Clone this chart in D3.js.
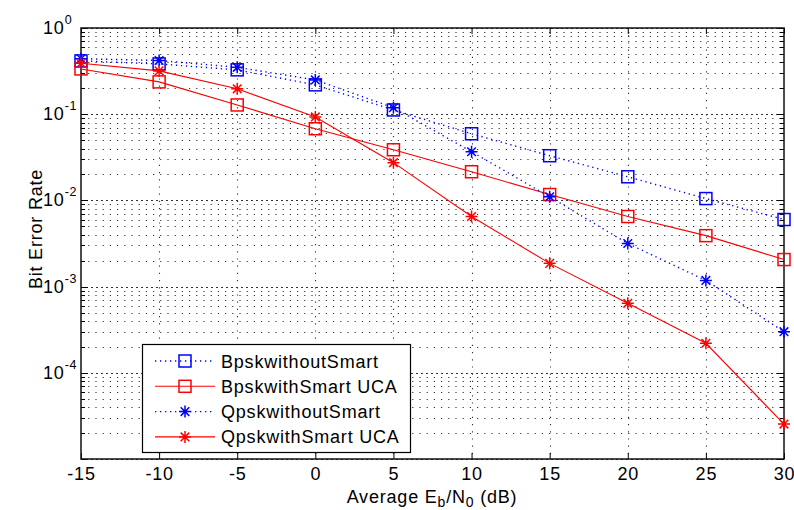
<!DOCTYPE html>
<html>
<head>
<meta charset="utf-8">
<script src="https://cdn.jsdelivr.net/npm/d3@7"></script>
<style>
  body { margin: 0; background: #fff; }
  svg text { font-family: "Liberation Sans", Arial, sans-serif; fill: #000; }
</style>
</head>
<body>
<div id="plot"></div>
<script>
// data
const ebn0 = [-15, -10, -5, 0, 5, 10, 15, 20, 25, 30];
const bpskWithoutSmart = [0.415, 0.383, 0.327, 0.219, 0.112, 0.0593, 0.033, 0.0188, 0.0105, 0.006];
const bpskWithSmartUCA = [0.335, 0.237, 0.128, 0.0678, 0.0387, 0.0215, 0.0117, 0.0065, 0.0039, 0.00206];
const qpskWithoutSmart = [0.44, 0.42, 0.35, 0.25, 0.119, 0.0367, 0.011, 0.00316, 0.00118, 0.0003];
const qpskWithSmartUCA = [0.39, 0.318, 0.197, 0.093, 0.0274, 0.0065, 0.00186, 0.00064, 0.00022, 0.0000254];
const seriesNames = ["BpskwithoutSmart", "BpskwithSmart UCA", "QpskwithoutSmart", "QpskwithSmart UCA"];
const xTicks = [-15, -10, -5, 0, 5, 10, 15, 20, 25, 30];
const yExponents = [0, -1, -2, -3, -4];

const svg_width = 794, svg_height = 510;
const plot_left = 81, plot_right = 784, plot_top = 28, plot_bottom = 459;
const font_size = "18px", letter_sp = "0.8px";

const svg = d3.select("#plot").append("svg")
  .attr("width", svg_width)
  .attr("height", svg_height);

const x = d3.scaleLinear().domain([-15, 30]).range([plot_left, plot_right]);
const y = d3.scaleLog().domain([1e-5, 1]).range([plot_bottom, plot_top]);

const series = [
  { name: seriesNames[0], values: bpskWithoutSmart, color: "#0000ff", dash: "1.3,3.7", marker: "square" },
  { name: seriesNames[1], values: bpskWithSmartUCA, color: "#ff0000", dash: null, marker: "square" },
  { name: seriesNames[2], values: qpskWithoutSmart, color: "#0000ff", dash: "1.3,3.7", marker: "star" },
  { name: seriesNames[3], values: qpskWithSmartUCA, color: "#ff0000", dash: null, marker: "star" }
];

// grid: minor decades, major decades, vertical lines
const minor = [];
for (let e = -5; e < 0; e++) {
  for (let m = 2; m <= 9; m++) minor.push(m * Math.pow(10, e));
}
const majorY = yExponents.map(e => Math.pow(10, e)).concat([1e-5]);
const grid = svg.append("g");
grid.selectAll(".minor").data(minor).enter().append("line")
  .attr("x1", plot_left).attr("x2", plot_right)
  .attr("y1", d => Math.round(y(d)) + 0.5).attr("y2", d => Math.round(y(d)) + 0.5)
  .attr("stroke", "#333").attr("stroke-width", 1.1)
  .attr("stroke-dasharray", "1.2,6");
grid.selectAll(".major").data(majorY).enter().append("line")
  .attr("x1", plot_left).attr("x2", plot_right)
  .attr("y1", d => Math.round(y(d)) + 0.5).attr("y2", d => Math.round(y(d)) + 0.5)
  .attr("stroke", "#333").attr("stroke-width", 1.1)
  .attr("stroke-dasharray", "2,3");
grid.selectAll(".vert").data(xTicks.slice(1, -1)).enter().append("line")
  .attr("x1", d => Math.round(x(d)) + 0.5).attr("x2", d => Math.round(x(d)) + 0.5)
  .attr("y1", plot_top).attr("y2", plot_bottom)
  .attr("stroke", "#333").attr("stroke-width", 1.1)
  .attr("stroke-dasharray", "1.2,6");

// axes
const xAxis = svg.append("g")
  .attr("transform", `translate(0,${plot_bottom})`)
  .call(d3.axisBottom(x).tickValues(xTicks).tickFormat(d => String(d))
    .tickSize(-6).tickPadding(8).tickSizeOuter(0));
xAxis.select(".domain").remove();
xAxis.selectAll("text").style("font-size", font_size).style("letter-spacing", letter_sp);

svg.append("g")
  .attr("transform", `translate(0,${plot_top})`)
  .call(d3.axisTop(x).tickValues(xTicks).tickSize(-6).tickFormat("").tickSizeOuter(0))
  .select(".domain").remove();

// y ticks inside, both sides
[plot_left, plot_right].forEach(px => {
  const dir = px === plot_left ? 1 : -1;
  svg.append("g").selectAll("line").data(majorY).enter().append("line")
    .attr("x1", px).attr("x2", px + dir * 7)
    .attr("y1", d => Math.round(y(d)) + 0.5).attr("y2", d => Math.round(y(d)) + 0.5)
    .attr("stroke", "#000");
  svg.append("g").selectAll("line").data(minor).enter().append("line")
    .attr("x1", px).attr("x2", px + dir * 4)
    .attr("y1", d => Math.round(y(d)) + 0.5).attr("y2", d => Math.round(y(d)) + 0.5)
    .attr("stroke", "#000");
});

// y tick labels 10^k
const yLab = svg.append("g").selectAll("text").data(yExponents).enter().append("text")
  .attr("x", 43)
  .attr("y", d => y(Math.pow(10, d)) + 6)
  .style("font-size", font_size)
  .style("letter-spacing", letter_sp);
yLab.append("tspan").text("10");
yLab.append("tspan").attr("dy", -10).style("font-size", "12.5px").text(d => d);

// box
svg.append("rect")
  .attr("x", plot_left).attr("y", plot_top)
  .attr("width", plot_right - plot_left).attr("height", plot_bottom - plot_top)
  .attr("fill", "none").attr("stroke", "#111").attr("stroke-width", 1.5);

// marker drawing
function drawMarker(g, kind, color) {
  if (kind === "square") {
    g.append("rect").attr("x", -6).attr("y", -6).attr("width", 12).attr("height", 12)
      .attr("fill", "none").attr("stroke", color).attr("stroke-width", 1.5);
  } else {
    const r = 6, d = 4.3;
    g.append("path")
      .attr("d", `M${-r},0H${r}M0,${-r}V${r}M${-d},${-d}L${d},${d}M${-d},${d}L${d},${-d}`)
      .attr("stroke", color).attr("stroke-width", 1.5).attr("fill", "none");
  }
}

const line = d3.line().x((d, i) => x(ebn0[i])).y(d => y(d));
const plot = svg.append("g");
series.forEach(s => {
  plot.append("path")
    .attr("d", line(s.values))
    .attr("fill", "none")
    .attr("stroke", s.color)
    .attr("stroke-width", s.dash ? 1.4 : 1.1)
    .attr("stroke-dasharray", s.dash);
  s.values.forEach((v, i) => {
    const g = plot.append("g").attr("transform", `translate(${x(ebn0[i])},${y(v)})`);
    drawMarker(g, s.marker, s.color);
  });
});

// legend
const legend = svg.append("g");
legend.append("rect")
  .attr("x", 142.5).attr("y", 344.5).attr("width", 268).attr("height", 108)
  .attr("fill", "#fff").attr("stroke", "#000").attr("stroke-width", 1.2);
series.forEach((s, i) => {
  const ly = 361 + i * 25.3;
  legend.append("line")
    .attr("x1", 155).attr("x2", 215).attr("y1", ly).attr("y2", ly)
    .attr("stroke", s.color).attr("stroke-width", s.dash ? 1.4 : 1.1)
    .attr("stroke-dasharray", s.dash);
  drawMarker(legend.append("g").attr("transform", `translate(185,${ly})`), s.marker, s.color);
  legend.append("text")
    .attr("x", 221).attr("y", ly + 6.5)
    .style("font-size", font_size).style("letter-spacing", letter_sp)
    .text(s.name);
});

// axis titles
const xt = svg.append("text")
  .attr("x", 432).attr("y", 503)
  .attr("text-anchor", "middle")
  .style("font-size", font_size).style("letter-spacing", letter_sp);
xt.append("tspan").text("Average E");
xt.append("tspan").attr("dy", 4).style("font-size", "14px").text("b");
xt.append("tspan").attr("dy", -4).text("/N");
xt.append("tspan").attr("dy", 4).style("font-size", "14px").text("0");
xt.append("tspan").attr("dy", -4).text(" (dB)");

svg.append("text")
  .attr("transform", "translate(42,229) rotate(-90)")
  .attr("text-anchor", "middle")
  .style("font-size", font_size).style("letter-spacing", letter_sp)
  .text("Bit Error Rate");
</script>
</body>
</html>
